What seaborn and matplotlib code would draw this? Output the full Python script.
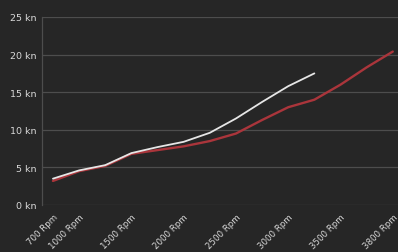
import numpy as np
import pandas as pd
import matplotlib
matplotlib.use("Agg")
import matplotlib.pyplot as plt
import seaborn as sns

# category axis (Excel-style); only some categories carry a label
rpm = [700, 1000, 1250, 1500, 1750, 2000, 2250, 2500, 2750, 3000, 3250, 3500, 3650, 3800]
shown_labels = [700, 1000, 1500, 2000, 2500, 3000, 3500, 3800]

red_speed = [3.2, 4.5, 5.2, 6.8, 7.3, 7.8, 8.5, 9.5, 11.3, 13.0, 14.0, 16.0, 18.3, 20.4]
white_speed = [3.5, 4.6, 5.3, 6.9, 7.7, 8.4, 9.6, 11.5, 13.7, 15.8, 17.5]

y_ticks = [0, 5, 10, 15, 20, 25]

BG = "#262626"
GRID = "#4d4d4d"
TEXT = "#d9d9d9"

sns.set_style("dark")
plt.rcParams["font.family"] = ["DejaVu Sans"]

pos = {r: i for i, r in enumerate(rpm)}
df_red = pd.DataFrame({"pos": [pos[r] for r in rpm], "speed": red_speed})
df_white = pd.DataFrame({"pos": [pos[r] for r in rpm[:len(white_speed)]], "speed": white_speed})

fig = plt.figure(figsize=(3.98, 2.53), dpi=100)
fig.patch.set_facecolor(BG)
ax = fig.add_axes([0.1055, 0.1858, 0.8945, 0.7431])
ax.set_facecolor(BG)

sns.lineplot(data=df_red, x="pos", y="speed", color="#aa353b", lw=1.7, ax=ax)
sns.lineplot(data=df_white, x="pos", y="speed", color="#e6e6e6", lw=1.3, ax=ax)

ax.set_xlim(-0.42, len(rpm) - 1 + 0.2)
ax.set_ylim(0, 25)
ax.set_yticks(y_ticks)
ax.set_yticklabels([f"{v} kn" for v in y_ticks], color=TEXT, fontsize=6.8)
ax.set_xticks([pos[r] for r in shown_labels])
ax.set_xticklabels([f"{r} Rpm" for r in shown_labels], rotation=45, ha="right",
                   rotation_mode="anchor", color=TEXT, fontsize=6.2)
ax.tick_params(axis="y", length=0, pad=4)
ax.tick_params(axis="x", length=0, pad=5)
ax.set_xlabel("")
ax.set_ylabel("")

ax.grid(axis="y", color=GRID, lw=0.9)
ax.grid(axis="x", visible=False)
for s in ["top", "right", "bottom"]:
    ax.spines[s].set_visible(False)
ax.spines["left"].set_visible(True)
ax.spines["left"].set_color(GRID)
ax.spines["left"].set_linewidth(0.9)

fig.savefig("out.png", dpi=100, facecolor=BG)
